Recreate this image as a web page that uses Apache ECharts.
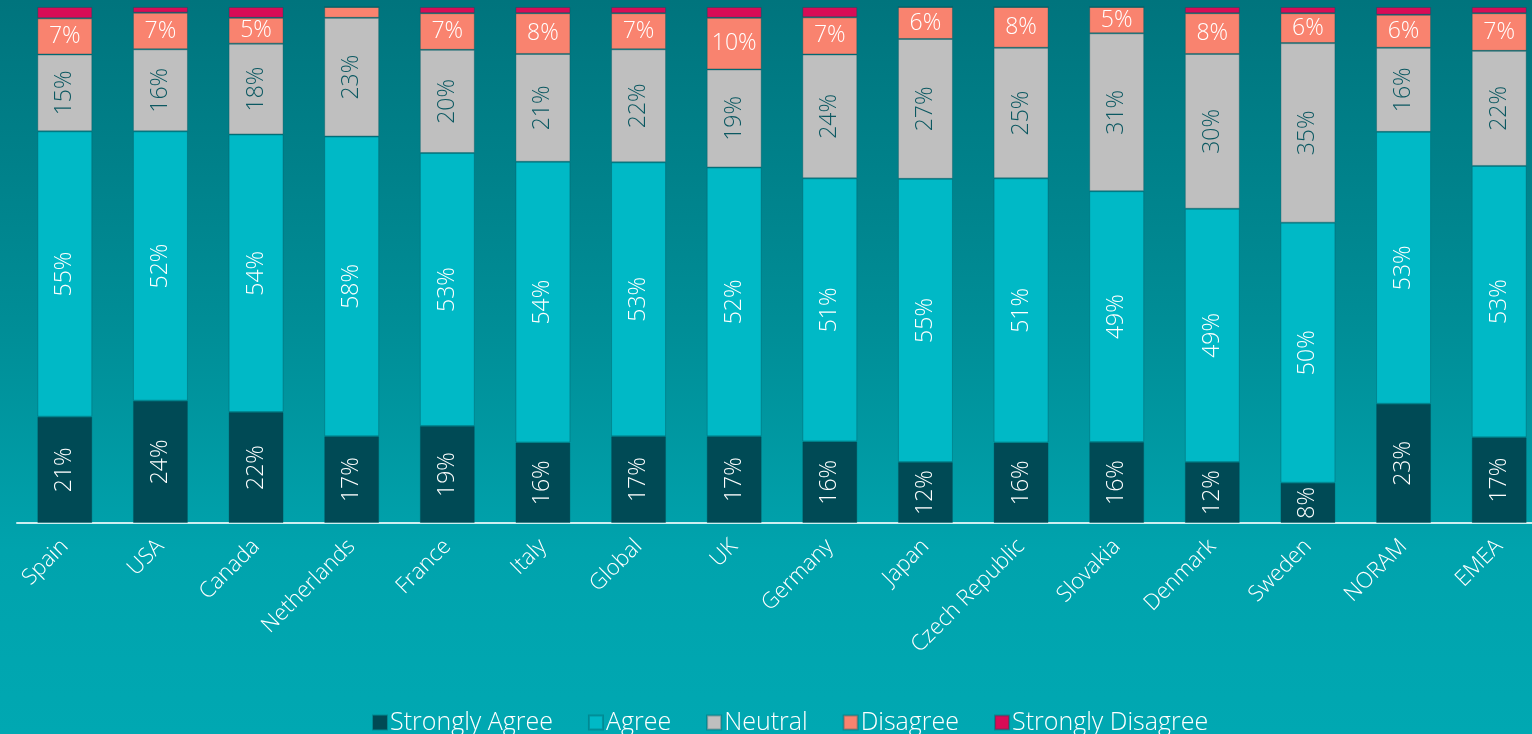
<!DOCTYPE html>
<html>
<head>
<meta charset="utf-8">
<script src="https://cdn.jsdelivr.net/npm/echarts@6/dist/echarts.min.js"></script>
<style>
html,body{margin:0;padding:0;width:1532px;height:734px;overflow:hidden;}
#chart{width:1532px;height:734px;}
</style>
</head>
<body>
<div id="chart"></div>
<script>
const categories = ['Spain','USA','Canada','Netherlands','France','Italy','Global','UK','Germany','Japan','Czech Republic','Slovakia','Denmark','Sweden','NORAM','EMEA'];
const seriesNames = ['Strongly Agree','Agree','Neutral','Disagree','Strongly Disagree'];
const stronglyAgree    = [20.6, 23.7, 21.5, 16.8, 18.8, 15.6, 16.8, 16.8, 15.8, 11.8, 15.6, 15.7, 11.8, 7.8, 23.1, 16.6];
const agree            = [55.3, 52.2, 53.8, 58.1, 52.9, 54.4, 53.1, 52.1, 51.0, 54.9, 51.2, 48.6, 49.1, 50.4, 52.7, 52.6];
const neutral          = [14.9, 15.9, 17.6, 23.0, 20.0, 20.9, 21.9, 19.0, 24.0, 27.1, 25.3, 30.6, 30.0, 34.8, 16.3, 22.3];
const disagree         = [7.0, 7.1, 5.0, 2.1, 7.1, 7.9, 7.0, 10.0, 7.2, 6.2, 7.9, 5.1, 7.9, 5.8, 6.4, 7.3];
const stronglyDisagree = [2.2, 1.1, 2.1, 0.0, 1.2, 1.2, 1.2, 2.1, 2.0, 0.0, 0.0, 0.0, 1.2, 1.2, 1.5, 1.2];

const colors = ['#004a55','#00b9c6','#bfbfbf','#f9836f','#d80c56'];
const labelColors = ['#ffffff','#ffffff','#0b5861','#ffffff','#ffffff'];
const labelRotate = [90, 90, 90, 0, 0];
const allData = [stronglyAgree, agree, neutral, disagree, stronglyDisagree];

const chart = echarts.init(document.getElementById('chart'), null, {renderer:'canvas'});
const series = seriesNames.map((name, i) => ({
  name: name,
  type: 'bar',
  stack: 'total',
  barWidth: '57.5%',
  data: allData[i],
  itemStyle: { color: colors[i], borderColor: 'rgba(0,80,90,0.35)', borderWidth: 1 },
  label: {
    show: true,
    position: 'inside',
    rotate: labelRotate[i],
    color: labelColors[i],
    fontFamily: 'Open Sans',
    fontWeight: 300,
    fontSize: 23,
    formatter: p => (p.value >= 4 ? Math.round(p.value) + '%' : '')
  },
  emphasis: { disabled: true }
}));

chart.setOption({
  animation: false,
  backgroundColor: {
    type: 'linear', x: 0, y: 0, x2: 0, y2: 1,
    colorStops: [
      { offset: 0, color: '#00747d' },
      { offset: 0.45, color: '#008e97' },
      { offset: 0.75, color: '#00a3ad' },
      { offset: 1, color: '#00a8b2' }
    ]
  },
  grid: { left: 17, width: 1530, top: 7, bottom: 211, containLabel: false, outerBoundsMode: 'none' },
  legend: {
    data: seriesNames,
    left: 367,
    top: 705,
    itemWidth: 14,
    itemHeight: 14,
    itemGap: 35,
    icon: 'rect',
    textStyle: { color: '#ffffff', fontFamily: 'Open Sans', fontWeight: 300, fontSize: 25, padding: [0,0,0,-2] }
  },
  xAxis: {
    type: 'category',
    data: categories,
    axisLine: { show: true, lineStyle: { color: '#cdeef0', width: 2 } },
    axisTick: { show: false },
    axisLabel: {
      rotate: 45,
      color: '#ffffff',
      fontFamily: 'Open Sans',
      fontWeight: 300,
      fontSize: 22,
      margin: 20,
      interval: 0
    }
  },
  yAxis: {
    type: 'value',
    min: 0,
    max: 100,
    show: false,
    splitLine: { show: false }
  },
  series: series
});
</script>
</body>
</html>
